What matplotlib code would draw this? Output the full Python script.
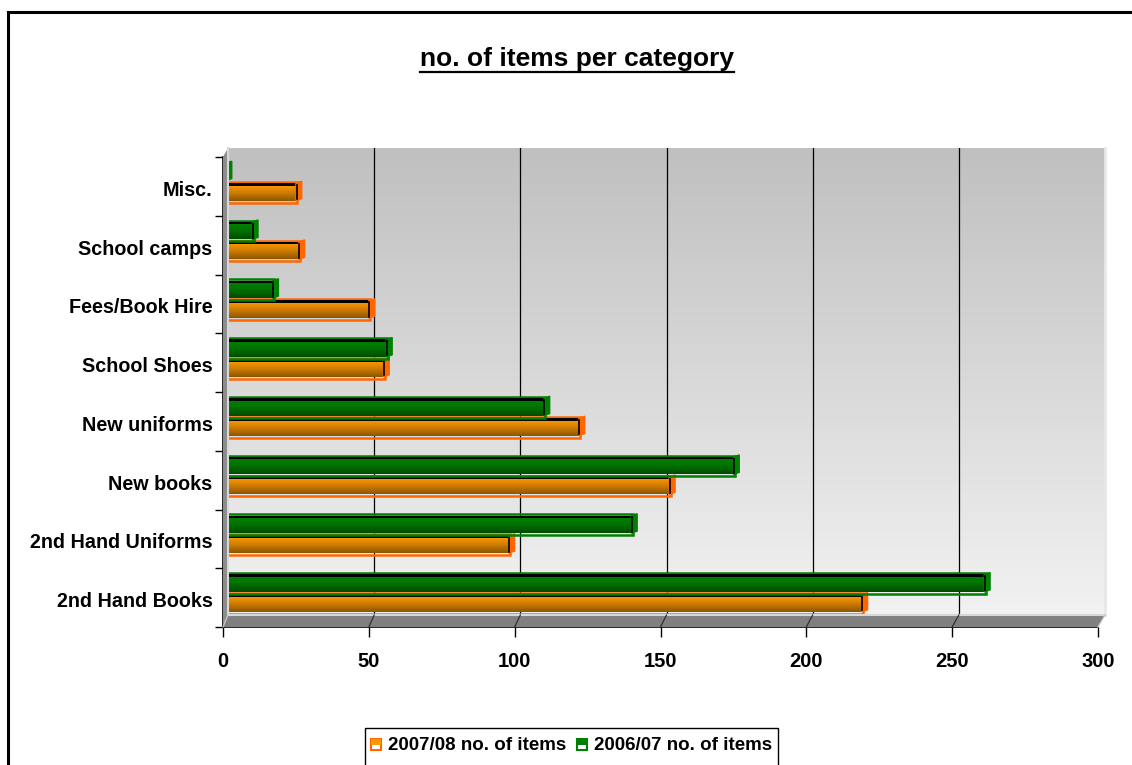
import numpy as np
import matplotlib
matplotlib.use("Agg")
import matplotlib.pyplot as plt
from matplotlib.patches import Rectangle, Polygon
from matplotlib.lines import Line2D
from matplotlib.transforms import ScaledTranslation

# ---------------- data ----------------
categories = ["2nd Hand Books", "2nd Hand Uniforms", "New books", "New uniforms",
              "School Shoes", "Fees/Book Hire", "School camps", "Misc."]
items_2007_08 = [219, 98, 153, 122, 55, 50, 26, 25]
items_2006_07 = [261, 140, 175, 110, 56, 17, 10, 1]
series_names = ["2007/08 no. of items", "2006/07 no. of items"]
x_ticks = [0, 50, 100, 150, 200, 250, 300]
title = "no. of items per category"

plt.rcParams['font.family'] = ['Liberation Sans', 'DejaVu Sans']

W, H = 1132, 765
fig = plt.figure(figsize=(W / 100, H / 100), dpi=100)

def fx(px):
    return px / W

def fy(py):
    return 1 - py / H

# outer border
fig.patches.append(Rectangle((fx(8), fy(H + 20)), fx(W + 20) - fx(8), fy(12) - fy(H + 20),
                             transform=fig.transFigure, fill=False, edgecolor='black',
                             linewidth=2.2, zorder=0))

# ---------------- back wall ----------------
wall_l, wall_r, wall_t, wall_b = 228, 1105, 148, 615
axw = fig.add_axes([fx(wall_l), fy(wall_b), fx(wall_r) - fx(wall_l), fy(wall_t) - fy(wall_b)])
grad = np.linspace(0, 1, 256).reshape(-1, 1)
axw.imshow(grad, extent=(0, 300, 0, 1), aspect='auto', origin='upper',
           cmap=matplotlib.colors.LinearSegmentedColormap.from_list('w', ['#c0c0c0', '#f2f2f2']))
axw.set_xlim(0, 300)
axw.set_ylim(0, 1)
for t in x_ticks[1:-1]:
    axw.axvline(t, color='black', linewidth=0.9)
axw.set_xticks([])
axw.set_yticks([])
for s in ['top', 'left', 'bottom']:
    axw.spines[s].set_visible(False)
axw.spines['right'].set_color('#e8e8e8')
axw.spines['right'].set_linewidth(2)

# ---------------- main axes ----------------
ax_l, ax_r, ax_t, ax_b = 223, 1098, 157, 627
ax = fig.add_axes([fx(ax_l), fy(ax_b), fx(ax_r) - fx(ax_l), fy(ax_t) - fy(ax_b)])
ax.patch.set_visible(False)
ax.set_xlim(0, 300)
ax.set_ylim(-0.5, len(categories) - 0.5)

# floor and left wall (in figure pixels)
floor = Polygon([(fx(223), fy(627)), (fx(1098), fy(627)), (fx(1105), fy(615)), (fx(228), fy(615))],
                closed=True, transform=fig.transFigure, facecolor='#808080',
                edgecolor='none', zorder=0.5)
fig.patches.append(floor)
lwall = Polygon([(fx(223), fy(627)), (fx(223), fy(157)), (fx(228), fy(148)), (fx(228), fy(615))],
                closed=True, transform=fig.transFigure, facecolor='#8c8c8c',
                edgecolor='none', zorder=0.5)
fig.patches.append(lwall)
fig.lines.append(Line2D([fx(228), fx(228)], [fy(148), fy(615)], transform=fig.transFigure,
                        color='#d8d8d8', linewidth=1.5, zorder=0.6))
fig.lines.append(Line2D([fx(228), fx(1105)], [fy(615), fy(615)], transform=fig.transFigure,
                        color='#d8d8d8', linewidth=1.5, zorder=0.6))
# slanted floor lines from front ticks to back gridlines
for t in x_ticks:
    xf = ax_l + (ax_r - ax_l) * t / 300
    xb = wall_l + (wall_r - wall_l) * t / 300
    fig.lines.append(Line2D([fx(xf), fx(xb)], [fy(627), fy(615)], transform=fig.transFigure,
                            color='#303030' if t not in (0, 300) else '#c8c8c8',
                            linewidth=0.9, zorder=0.7))

bar_h = 0.355
off_orange = -0.10
off_green = 0.24

green_cmap = matplotlib.colors.LinearSegmentedColormap.from_list('g', ['#004a00', '#007000', '#008000'])
orange_cmap = matplotlib.colors.LinearSegmentedColormap.from_list('o', ['#8c5600', '#cc7a00', '#ff9900'])


def draw_bar(y, v, cmap, edge, z):
    y0, y1 = y - bar_h / 2, y + bar_h / 2
    # box outline
    ax.add_patch(Rectangle((0.5, y0), v, bar_h, fill=False,
                           edgecolor=edge, linewidth=1.8, zorder=z))
    # face with vertical gradient
    g = np.linspace(0, 1, 64).reshape(-1, 1)
    ax.imshow(g, extent=(1.0, v, y0 + 0.035, y1 - 0.06), aspect='auto', origin='lower',
              cmap=cmap, zorder=z + 0.1, interpolation='bilinear')
    # top face (black)
    ax.add_patch(Rectangle((1.0, y1 - 0.065), v - 1.0, 0.045, facecolor='black',
                           edgecolor='none', zorder=z + 0.2))
    # right side face
    ax.add_patch(Polygon([(v, y0 + 0.035), (v, y1 - 0.02), (v + 2.0, y1 + 0.01), (v + 2.0, y0 + 0.07)],
                         closed=True, facecolor=edge, edgecolor=edge, linewidth=1.0,
                         zorder=z + 0.2))
    ax.plot([v + 0.2, v + 0.2], [y0 + 0.06, y1 - 0.05], color='black', linewidth=1.2,
            zorder=z + 0.3)


for i, (vo, vg) in enumerate(zip(items_2007_08, items_2006_07)):
    draw_bar(i + off_orange, vo, orange_cmap, '#ff6600', 2)
    draw_bar(i + off_green, vg, green_cmap, '#008000', 3)

ax.set_xlim(0, 300)
ax.set_ylim(-0.5, len(categories) - 0.5)

for s in ['top', 'right']:
    ax.spines[s].set_visible(False)
ax.spines['left'].set_linewidth(1.2)
ax.spines['bottom'].set_linewidth(1.2)
ax.set_xticks(x_ticks)
ax.set_xticklabels([str(t) for t in x_ticks], fontsize=14.5, fontweight='bold')
ax.tick_params(axis='x', length=7, width=1.0, pad=11)
ax.set_yticks(range(len(categories)))
ax.set_yticklabels(categories, fontsize=14.2, fontweight='bold')
ax.tick_params(axis='y', which='major', length=0, pad=7.5)
ax.set_yticks(np.arange(-0.5, len(categories)), minor=True)
ax.tick_params(axis='y', which='minor', length=6, width=1.0)
shift = ScaledTranslation(0, -4 / 100, fig.dpi_scale_trans)
for lbl in ax.get_yticklabels():
    lbl.set_va('center')
    lbl.set_transform(lbl.get_transform() + shift)

# title with underline
tt = fig.text(fx(577), fy(59), title, fontsize=19, fontweight='bold', ha='center', va='center')
fig.canvas.draw()
bb = tt.get_window_extent()
uy = bb.y0 - 1
fig.lines.append(Line2D([bb.x0 / W, bb.x1 / W], [uy / H, uy / H], transform=fig.transFigure,
                        color='black', linewidth=1.6))

# legend (manual)
leg_l, leg_t, leg_r = 365, 728, 778
fig.patches.append(Rectangle((fx(leg_l), fy(H + 10)), fx(leg_r) - fx(leg_l), fy(leg_t) - fy(H + 10),
                             transform=fig.transFigure, facecolor='white', edgecolor='black',
                             linewidth=1.0, zorder=1))
legend_specs = [(371, series_names[0], '#ff9900', '#ff6600'),
                (577, series_names[1], '#008000', '#008000')]
for x0, name, fc, ec in legend_specs:
    fig.patches.append(Rectangle((fx(x0), fy(750)), 10 / W, 11 / H, transform=fig.transFigure,
                                 facecolor='white', edgecolor=ec, linewidth=1.5, zorder=2))
    fig.patches.append(Rectangle((fx(x0), fy(745)), 10 / W, 6 / H, transform=fig.transFigure,
                                 facecolor=fc, edgecolor='none', zorder=3))
    fig.text(fx(x0 + 17), fy(745), name, fontsize=13.5, fontweight='bold',
             ha='left', va='center', zorder=4)

fig.savefig('out.png', dpi=100)
